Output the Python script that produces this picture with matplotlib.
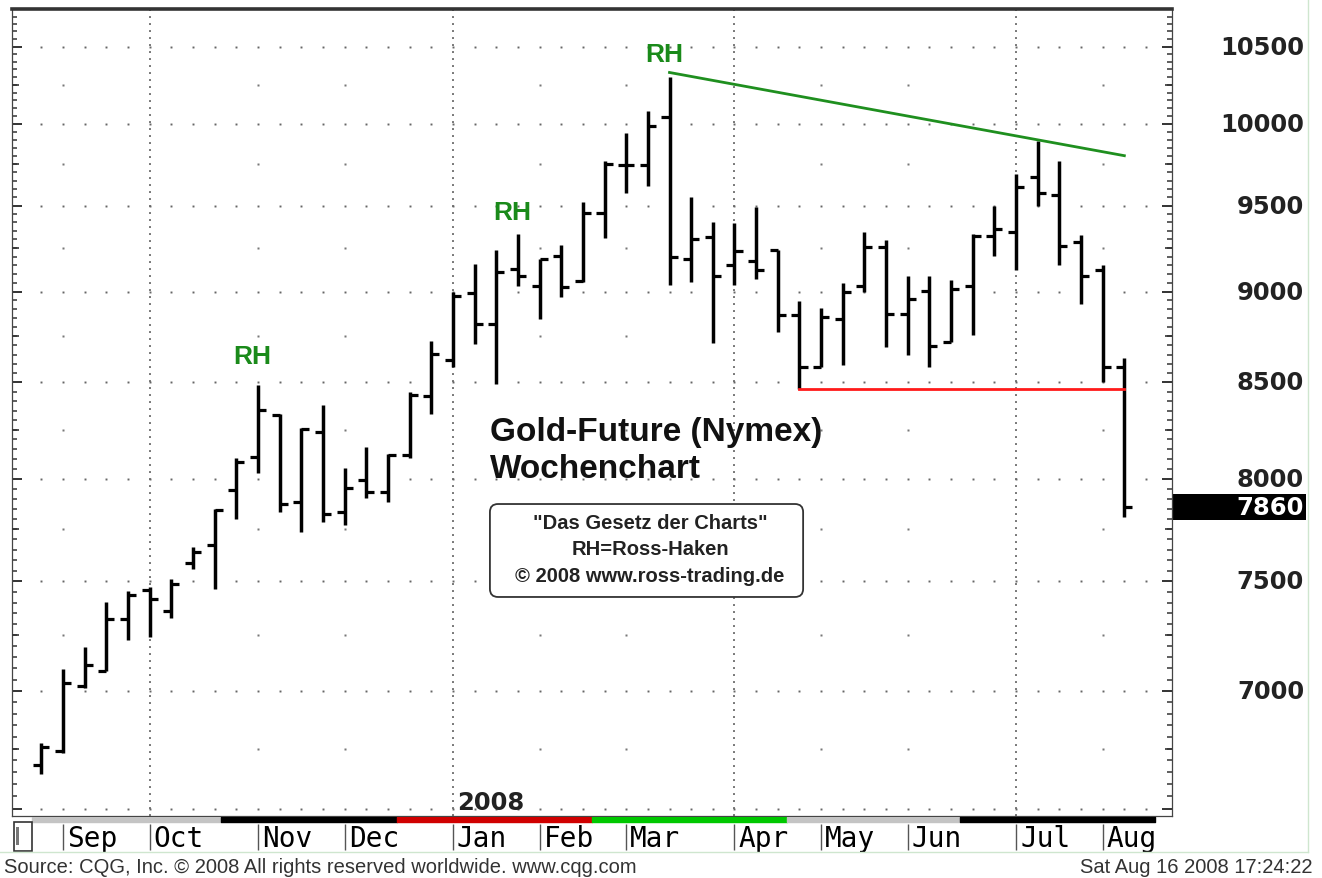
import numpy as np
import pandas as pd
import matplotlib
matplotlib.use('Agg')
import matplotlib.pyplot as plt
import matplotlib.dates as mdates
from matplotlib.patches import Rectangle, FancyBboxPatch
from matplotlib.lines import Line2D
from matplotlib.ticker import FixedLocator, NullFormatter

plt.rcParams['font.family'] = ['Liberation Sans', 'DejaVu Sans']

# weekly bars (Monday of each week), prices in 1/10 $
weeks = pd.date_range('2007-08-27', periods=51, freq='W-MON')

opens = [6679, 6742, 7020, 7090, 7324, 7460, 7359, 7586, 7674, 7944,
         8110, 8327, 7885, 8240, 7833, 7993, 7933, 8119, 8428, 8622,
         8991, 8817, 9128, 9033, 9205, 9061, 9458, 9745, 9745, 10042,
         9185, 9312, 9151, 9176, 9239, 8867, 8580, 8845, 9033, 9253,
         8873, 9004, 8721, 9033, 9318, 9345, 9670, 9563, 9286, 9124,
         8580]
highs = [6773, 7097, 7195, 7401, 7456, 7472, 7509, 7662, 7847, 8106,
         8484, 8333, 8261, 8378, 8054, 8163, 8124, 8451, 8725, 8995,
         9157, 9239, 9331, 9185, 9267, 9523, 9772, 9944, 10084, 10298,
         9549, 9400, 9396, 9489, 9239, 8948, 8905, 9048, 9345, 9298,
         9086, 9086, 9067, 9331, 9495, 9690, 9896, 9772, 9325, 9151,
         8629]
lows = [6643, 6733, 7013, 7087, 7226, 7242, 7327, 7558, 7465, 7799,
        8031, 7833, 7736, 7786, 7769, 7901, 7885, 8106, 8332, 8580,
        8707, 8491, 9033, 8845, 8967, 9055, 9306, 9575, 9619, 9036,
        9055, 8713, 9036, 9071, 8775, 8465, 8580, 8593, 8999, 8689,
        8647, 8580, 8716, 8756, 9201, 9124, 9499, 9151, 8929, 8500,
        7807]
closes = [6756, 7036, 7113, 7324, 7436, 7417, 7488, 7637, 7842, 8084,
          8355, 7876, 8253, 7825, 7953, 7933, 8119, 8433, 8652, 8976,
          8817, 9109, 9090, 9185, 9027, 9455, 9751, 9745, 9985, 9195,
          9302, 9086, 9234, 9124, 8867, 8580, 8854, 8995, 9257, 8873,
          8957, 8695, 9014, 9318, 9361, 9609, 9575, 9263, 9090, 8580,
          7857]

# Ross-Haken bars (index), trend line and support line
rh_bars = [10, 21, 29]
trend_bars = [29, 50]
trend_prices = [10330, 9803]
support_bars = [35, 50]
support_price = 8465
last_price = 7860

y_labels = [7000, 7500, 8000, 8500, 9000, 9500, 10000, 10500]

# contract colour band below the chart
band_edges = ['2007-08-24', '2007-10-24', '2007-12-20', '2008-02-21',
              '2008-04-24', '2008-06-19', '2008-08-21']
band_colors = ['#c4c4c4', '#000000', '#d00000', '#00c800', '#c4c4c4', '#000000']

W, H = 1322, 879
fig = plt.figure(figsize=(W / 100, H / 100), dpi=100)
fig.patch.set_facecolor('white')

ax = fig.add_axes([12 / W, (H - 817) / H, 1160 / W, 807 / H])
xnum = mdates.date2num(weeks)
ax.set_yscale('log')
ax.set_xlim(xnum[0] - 9.5, xnum[-1] + 15.4)
ax.set_ylim(6470, 10751)

# medium ticks at the 250 levels on a twin axis
ax2 = ax.twinx()
ax2.set_yscale('log')
ax2.set_ylim(ax.get_ylim())
ax2.yaxis.set_major_locator(FixedLocator(np.arange(6750, 10801, 500)))
ax2.yaxis.set_minor_locator(FixedLocator([]))
ax2.yaxis.set_major_formatter(NullFormatter())
ax2.tick_params(axis='y', direction='in', left=True, right=True, length=4.8,
                width=1.2, color='#333', labelleft=False, labelright=False)
for s in ax2.spines.values():
    s.set_visible(False)

# long ticks at 500, short ticks every 50, on both sides
ax.yaxis.set_major_locator(FixedLocator(np.arange(6500, 10801, 500)))
ax.yaxis.set_minor_locator(FixedLocator(np.arange(6500, 10801, 50)))
ax.yaxis.set_major_formatter(NullFormatter())
ax.yaxis.set_minor_formatter(NullFormatter())
ax.tick_params(axis='y', which='major', direction='in', left=True, right=True,
               length=7, width=1.4, color='#333', labelleft=False, labelright=False)
ax.tick_params(axis='y', which='minor', direction='in', left=True, right=True,
               length=3.5, width=1.1, color='#333', labelleft=False, labelright=False)
ax.tick_params(axis='x', bottom=False, labelbottom=False)

for s in ['left', 'right', 'bottom']:
    ax.spines[s].set_color('#444')
    ax.spines[s].set_linewidth(0.9)
ax.spines['top'].set_color('#333')
ax.spines['top'].set_linewidth(2.6)

# dotted grid
grid_weeks = mdates.date2num(pd.date_range(weeks[0], periods=len(weeks) + 1, freq='W-MON'))
levels = np.arange(6500, 10501, 500)
gx, gy = np.meshgrid(grid_weeks, levels)
ax.plot(gx.ravel(), gy.ravel(), 's', ms=1.4, color='#666', mec='none')

first_weeks = weeks[weeks.day <= 7]
quarter_weeks = first_weeks[first_weeks.month.isin([1, 4, 7, 10])]
other_weeks = first_weeks[~first_weeks.month.isin([1, 4, 7, 10])]
for q in mdates.date2num(quarter_weeks):
    ax.axvline(q, color='#777', lw=1.4, ls=(0, (1, 2.6)), zorder=0)
mx, my = np.meshgrid(mdates.date2num(other_weeks), np.arange(6750, 10500, 500))
ax.plot(mx.ravel(), my.ravel(), 's', ms=1.8, color='#777', mec='none')

# OHLC bars
ax.vlines(xnum, lows, highs, color='black', lw=2.5)
ax.hlines(opens, xnum - 2.6, xnum, color='black', lw=2.3)
ax.hlines(closes, xnum, xnum + 2.6, color='black', lw=2.3)

ax.plot(xnum[trend_bars], trend_prices, color='#1f8f1f', lw=2)
ax.plot(xnum[support_bars], [support_price] * 2, color='#ff1a1a', lw=2)

rh_offsets = [(-4, 21), (11.5, 27), (-4, 17)]
for b, (dx, dy) in zip(rh_bars, rh_offsets):
    ax.annotate('RH', xy=(xnum[b], highs[b]), xytext=(dx, dy), textcoords='offset points',
                ha='center', va='center', fontsize=19, fontweight='bold', color='#1a8a1a')

ax.text(0.412, 0.476, 'Gold-Future (Nymex)', transform=ax.transAxes, fontsize=24,
        fontweight='bold', va='center', color='#111')
ax.text(0.412, 0.430, 'Wochenchart', transform=ax.transAxes, fontsize=24,
        fontweight='bold', va='center', color='#111')

box = FancyBboxPatch((0.412, 0.2714), 0.270, 0.1152, transform=ax.transAxes,
                     boxstyle='round,pad=0,rounding_size=0.007', mutation_aspect=1.43,
                     fc='white', ec='#333', lw=1.3, zorder=3)
ax.add_patch(box)
box_lines = ['"Das Gesetz der Charts"', 'RH=Ross-Haken', '\u00a9 2008 www.ross-trading.de']
for txt, yy in zip(box_lines, [0.3643, 0.3309, 0.2974]):
    ax.text(0.55, yy, txt, transform=ax.transAxes, ha='center', va='center',
            fontsize=14.5, fontweight='bold', color='#222', zorder=4)

# price labels on the right
ytrans = ax.get_yaxis_transform()
for v in y_labels:
    ax.text(1.1138, v, str(v), transform=ytrans, ha='right', va='center',
            fontfamily='DejaVu Sans', fontweight='bold', fontsize=17.5, color='#222',
            clip_on=False)
ax.add_patch(Rectangle((1.0, last_price * np.exp(-0.0082)), 0.1155,
                       last_price * (np.exp(0.0082) - np.exp(-0.0082)),
                       transform=ytrans, fc='black', ec='none', clip_on=False))
ax.text(1.1138, last_price, str(last_price), transform=ytrans, ha='right', va='center',
        fontfamily='DejaVu Sans', fontweight='bold', fontsize=17.5, color='white',
        clip_on=False)

ax.text(mdates.date2num(quarter_weeks[1]) + 1.5, 0.0173, str(quarter_weeks[1].year),
        transform=ax.get_xaxis_transform(), ha='left', va='center',
        fontfamily='DejaVu Sans', fontweight='bold', fontsize=17.5, color='#222')

# month row below the chart
bx = fig.add_axes([12 / W, (H - 853) / H, 1160 / W, 35 / H])
bx.set_xlim(ax.get_xlim())
bx.set_ylim(0, 35)
bx.axis('off')
edges = mdates.date2num(pd.to_datetime(band_edges))
for i, c in enumerate(band_colors):
    bx.broken_barh([(edges[i], edges[i + 1] - edges[i])], (30, 5), color=c)
month_x = mdates.date2num(first_weeks)
bx.vlines(month_x, 2, 28, color='#555', lw=1)
for m, d in zip(month_x, first_weeks):
    bx.text(m + 1.3, 14, d.strftime('%b'), ha='left', va='center',
            fontfamily='DejaVu Sans Mono', fontsize=20, color='black')

fig.add_artist(Rectangle((14 / W, (H - 852) / H), 18 / W, 29 / H, transform=fig.transFigure,
                         fill=False, ec='#333', lw=1.2))
fig.add_artist(Rectangle((16 / W, (H - 846) / H), 3 / W, 18 / H, transform=fig.transFigure,
                         fc='#777', ec='none'))
fig.add_artist(Line2D([0, 1308 / W], [(H - 853) / H] * 2, transform=fig.transFigure,
                      color='#cfe6cf', lw=1))
fig.add_artist(Line2D([1308 / W] * 2, [(H - 853) / H, 1], transform=fig.transFigure,
                      color='#cfe6cf', lw=1))

fig.text(4 / W, (H - 868) / H, 'Source: CQG, Inc. \u00a9 2008 All rights reserved worldwide. www.cqg.com',
         ha='left', va='center', fontsize=14.5, color='#333')
fig.text(1312 / W, (H - 868) / H, 'Sat Aug 16 2008 17:24:22',
         ha='right', va='center', fontsize=14.5, color='#333')

fig.savefig('out.png', dpi=100)
